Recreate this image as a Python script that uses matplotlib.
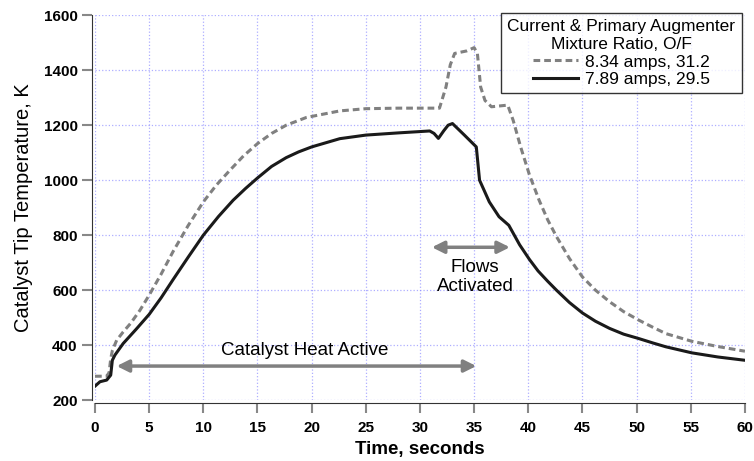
import matplotlib.pyplot as plt

plt.rcParams['font.family'] = ['Liberation Sans', 'DejaVu Sans']

# 8.34 amps, O/F 31.2 (dashed)
t_hi = [0, 1.08, 1.3, 1.45, 1.6, 2.0, 2.6, 3.3, 4.15, 5.0, 6.1, 7.2, 8.6, 10.0, 11.2,
        12.45, 13.7, 15.0, 16.3, 17.65, 19.5, 22.6, 25.0, 28.0, 31.8, 32.4, 32.8, 33.2,
        34.3, 35.0, 35.3, 35.6, 36.0, 36.6, 38.1, 38.6, 39.3, 40.1, 41.0, 41.8, 42.6,
        43.8, 45.0, 46.2, 47.5, 48.8, 50.2, 51.5, 52.7, 55.1, 57.5, 60.0]
T_hi = [287, 287, 300, 350, 380, 418, 448, 480, 527, 582, 658, 740, 835, 921, 982,
        1036, 1088, 1133, 1170, 1200, 1228, 1252, 1260, 1262, 1262, 1339, 1420, 1461,
        1470, 1482, 1461, 1339, 1290, 1267, 1273, 1218, 1120, 1020, 927, 855, 795,
        715, 648, 600, 558, 522, 491, 465, 442, 414, 395, 378]

# 7.89 amps, O/F 29.5 (solid)
t_lo = [0, 0.46, 1.08, 1.45, 1.6, 1.84, 2.6, 3.8, 5.0, 6.1, 7.2, 8.6, 10.0, 11.4, 12.75,
        13.9, 15.0, 16.3, 17.65, 18.8, 20.0, 22.6, 25.0, 28.0, 30.9, 31.3, 31.7, 32.2,
        32.6, 33.0, 34.1, 35.2, 35.5, 36.4, 37.3, 38.2, 39.2, 40.1, 40.9, 41.8, 42.6,
        43.8, 45.0, 46.2, 47.5, 48.8, 50.2, 51.5, 52.7, 55.1, 57.5, 60.0]
T_lo = [251, 267, 273, 291, 345, 364, 406, 458, 512, 572, 638, 720, 800, 868, 927,
        970, 1008, 1050, 1082, 1103, 1121, 1151, 1164, 1172, 1179, 1170, 1152, 1180,
        1200, 1206, 1164, 1121, 1000, 921, 867, 836, 765, 712, 670, 632, 600,
        555, 517, 487, 461, 440, 424, 408, 394, 372, 357, 345]

fig = plt.figure(figsize=(7.54, 4.61), dpi=100)
ax = fig.add_axes([0.126, 0.132, 0.862, 0.835])

ax.grid(True, color='#8c8cff', linestyle=':', linewidth=0.9, alpha=0.7)
ax.set_axisbelow(True)

l1, = ax.plot(t_hi, T_hi, color='#808080', linestyle=(0, (2.2, 1.3)), linewidth=2.2,
              label='8.34 amps, 31.2')
l2, = ax.plot(t_lo, T_lo, color='#1a1a1a', linewidth=2.2, label='7.89 amps, 29.5')

ax.set_xlim(0, 60)
ax.set_ylim(200, 1600)
ax.set_xticks(range(0, 61, 5))
ax.set_yticks(range(200, 1601, 200))

for s in ['top', 'right']:
    ax.spines[s].set_visible(False)
for s in ['left', 'bottom']:
    ax.spines[s].set_position(('outward', 2))
    ax.spines[s].set_color('#333333')
ax.tick_params(axis='both', direction='out', length=7, color='#888888', width=1.5,
               labelsize=11)
ax.tick_params(axis='x', pad=6)
for lab in ax.get_xticklabels() + ax.get_yticklabels():
    lab.set_fontweight('bold')

ax.set_xlabel('Time, seconds', fontsize=13.5, fontweight='bold', labelpad=4)
ax.set_ylabel('Catalyst Tip Temperature, K', fontsize=14.5, labelpad=8)

# annotations
ax.annotate('', xy=(2.0, 324), xytext=(35.2, 324),
            arrowprops=dict(arrowstyle='<|-|>', color='#808080', lw=2.5,
                            mutation_scale=18, shrinkA=0, shrinkB=0))
ax.text(19.4, 348, 'Catalyst Heat Active', ha='center', va='bottom', fontsize=13.5)

ax.annotate('', xy=(31.1, 756), xytext=(38.3, 756),
            arrowprops=dict(arrowstyle='<|-|>', color='#808080', lw=2.5,
                            mutation_scale=18, shrinkA=0, shrinkB=0))
ax.text(35.1, 712, 'Flows\nActivated', ha='center', va='top', fontsize=13.5,
        linespacing=1.1)

leg = fig.legend(handles=[l1, l2], title='Current & Primary Augmenter\nMixture Ratio, O/F',
                 loc='upper right', bbox_to_anchor=(0.995, 0.99), fontsize=12.5,
                 title_fontsize=12.5, frameon=True, fancybox=False, handlelength=2.6,
                 handletextpad=0.4, borderpad=0.35, labelspacing=0.15, edgecolor='black')
leg.get_frame().set_linewidth(1.0)
leg.get_title().set_multialignment('center')
leg._legend_box.align = 'center'

fig.savefig('out.png', dpi=100)
